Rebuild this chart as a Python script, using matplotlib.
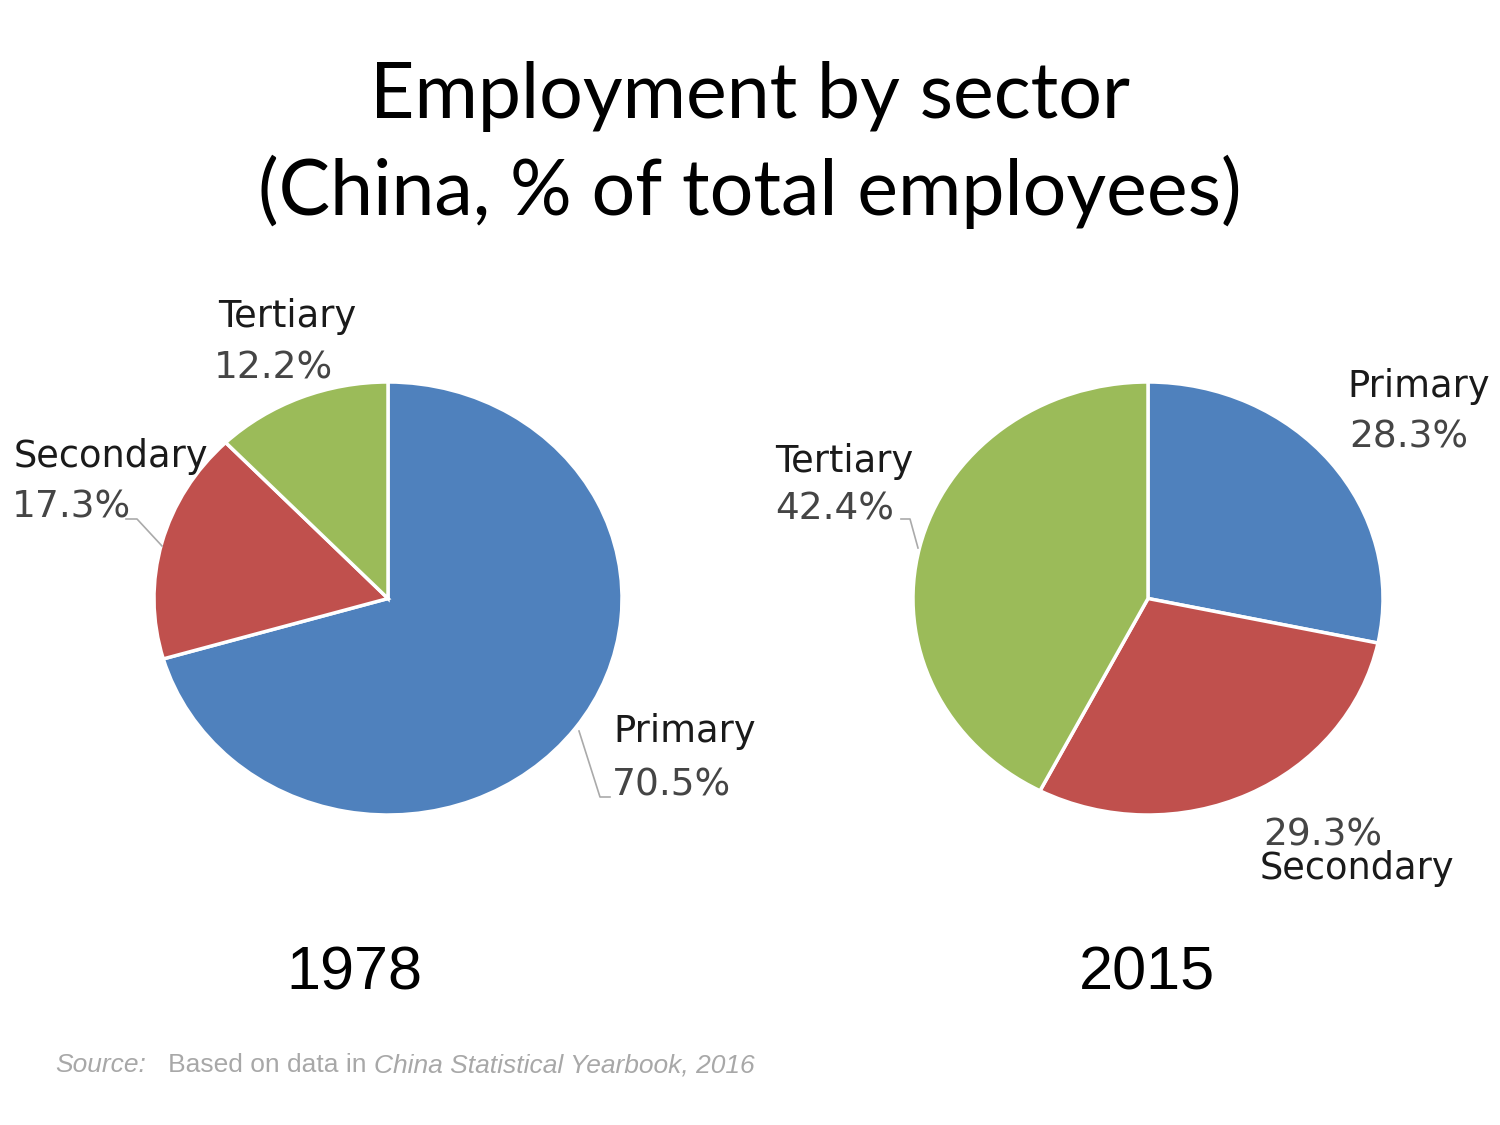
import matplotlib
matplotlib.use("Agg")
import matplotlib.pyplot as plt
from matplotlib.lines import Line2D

# ---- data ----
sectors = ["Primary", "Secondary", "Tertiary"]
shares_1978 = [70.5, 17.3, 12.2]
shares_2015 = [28.3, 29.3, 42.4]
years = ["1978", "2015"]
colors = ["#4F81BD", "#C0504D", "#9BBB59"]
title_lines = ["Employment by sector", "(China, % of total employees)"]

W, H = 1500, 1125
fig = plt.figure(figsize=(15, 11.25), dpi=100)
fig.patch.set_facecolor("white")

def fx(x):
    return x / W

def fy(y):
    return 1 - y / H

# ---- title ----
fig.text(fx(750), fy(118), title_lines[0], ha="center", va="baseline",
         fontsize=55.5, family="Lato", color="black")
fig.text(fx(750), fy(215), title_lines[1], ha="center", va="baseline",
         fontsize=55.5, family="Lato", color="black")

# ---- pies ----
def make_pie(left, top, right, bottom, values):
    ax = fig.add_axes([fx(left), fy(bottom), (right - left) / W, (bottom - top) / H])
    ax.pie(values, colors=colors, startangle=90, counterclock=False,
           wedgeprops=dict(edgecolor="white", linewidth=2.5))
    ax.set_aspect("auto")
    ax.set_xlim(-1.0, 1.0)
    ax.set_ylim(-1.0, 1.0)
    ax.axis("off")
    return ax

make_pie(154, 382, 622, 815, shares_1978)
make_pie(913, 382, 1383, 815, shares_2015)

lab_kw = dict(family="DejaVu Sans", fontsize=26.5, color="#1a1a1a", va="baseline", ha="left")
pct_kw = dict(family="DejaVu Sans", fontsize=27, color="#454545", va="baseline", ha="left")

def pct(v):
    return f"{v:.1f}%"

# 1978 labels
fig.text(fx(218), fy(327), sectors[2], **lab_kw)
fig.text(fx(214), fy(378), pct(shares_1978[2]), **pct_kw)
fig.text(fx(14), fy(467), sectors[1], **lab_kw)
fig.text(fx(12), fy(518), pct(shares_1978[1]), **pct_kw)
fig.text(fx(613), fy(742), sectors[0], **lab_kw)
fig.text(fx(612), fy(796), pct(shares_1978[0]), **pct_kw)

# 2015 labels
fig.text(fx(1347), fy(397), sectors[0], **lab_kw)
fig.text(fx(1349), fy(447), pct(shares_2015[0]), **pct_kw)
fig.text(fx(775), fy(472), sectors[2], **lab_kw)
fig.text(fx(775), fy(520), pct(shares_2015[2]), **pct_kw)
fig.text(fx(1263), fy(845), pct(shares_2015[1]), **pct_kw)
fig.text(fx(1260), fy(879), sectors[1], **lab_kw)

# leader lines
def leader(xs, ys):
    fig.add_artist(Line2D([fx(x) for x in xs], [fy(y) for y in ys],
                          color="#aaaaaa", linewidth=1.2))

leader([126, 137, 162], [519, 519, 546])
leader([579, 600, 610], [731, 797, 797])
leader([901, 910, 918], [519, 519, 548])

# year labels
yr_kw = dict(family="Liberation Sans", fontsize=44, color="black", ha="center", va="baseline")
fig.text(fx(354), fy(989), years[0], **yr_kw)
fig.text(fx(1147), fy(989), years[1], **yr_kw)

# source line with mixed italics
pieces = [("Source:", "italic"), ("   Based on data in ", "normal"),
          ("China Statistical Yearbook, 2016", "italic")]
renderer = fig.canvas.get_renderer()
x = 55
for txt, style in pieces:
    t = fig.text(fx(x), fy(1072), txt, family="Liberation Sans", fontsize=19,
                 style=style, color="#a8a8a8", ha="left", va="baseline")
    bb = t.get_window_extent(renderer=renderer)
    x += bb.width

fig.savefig("out.png", dpi=100, facecolor="white")
